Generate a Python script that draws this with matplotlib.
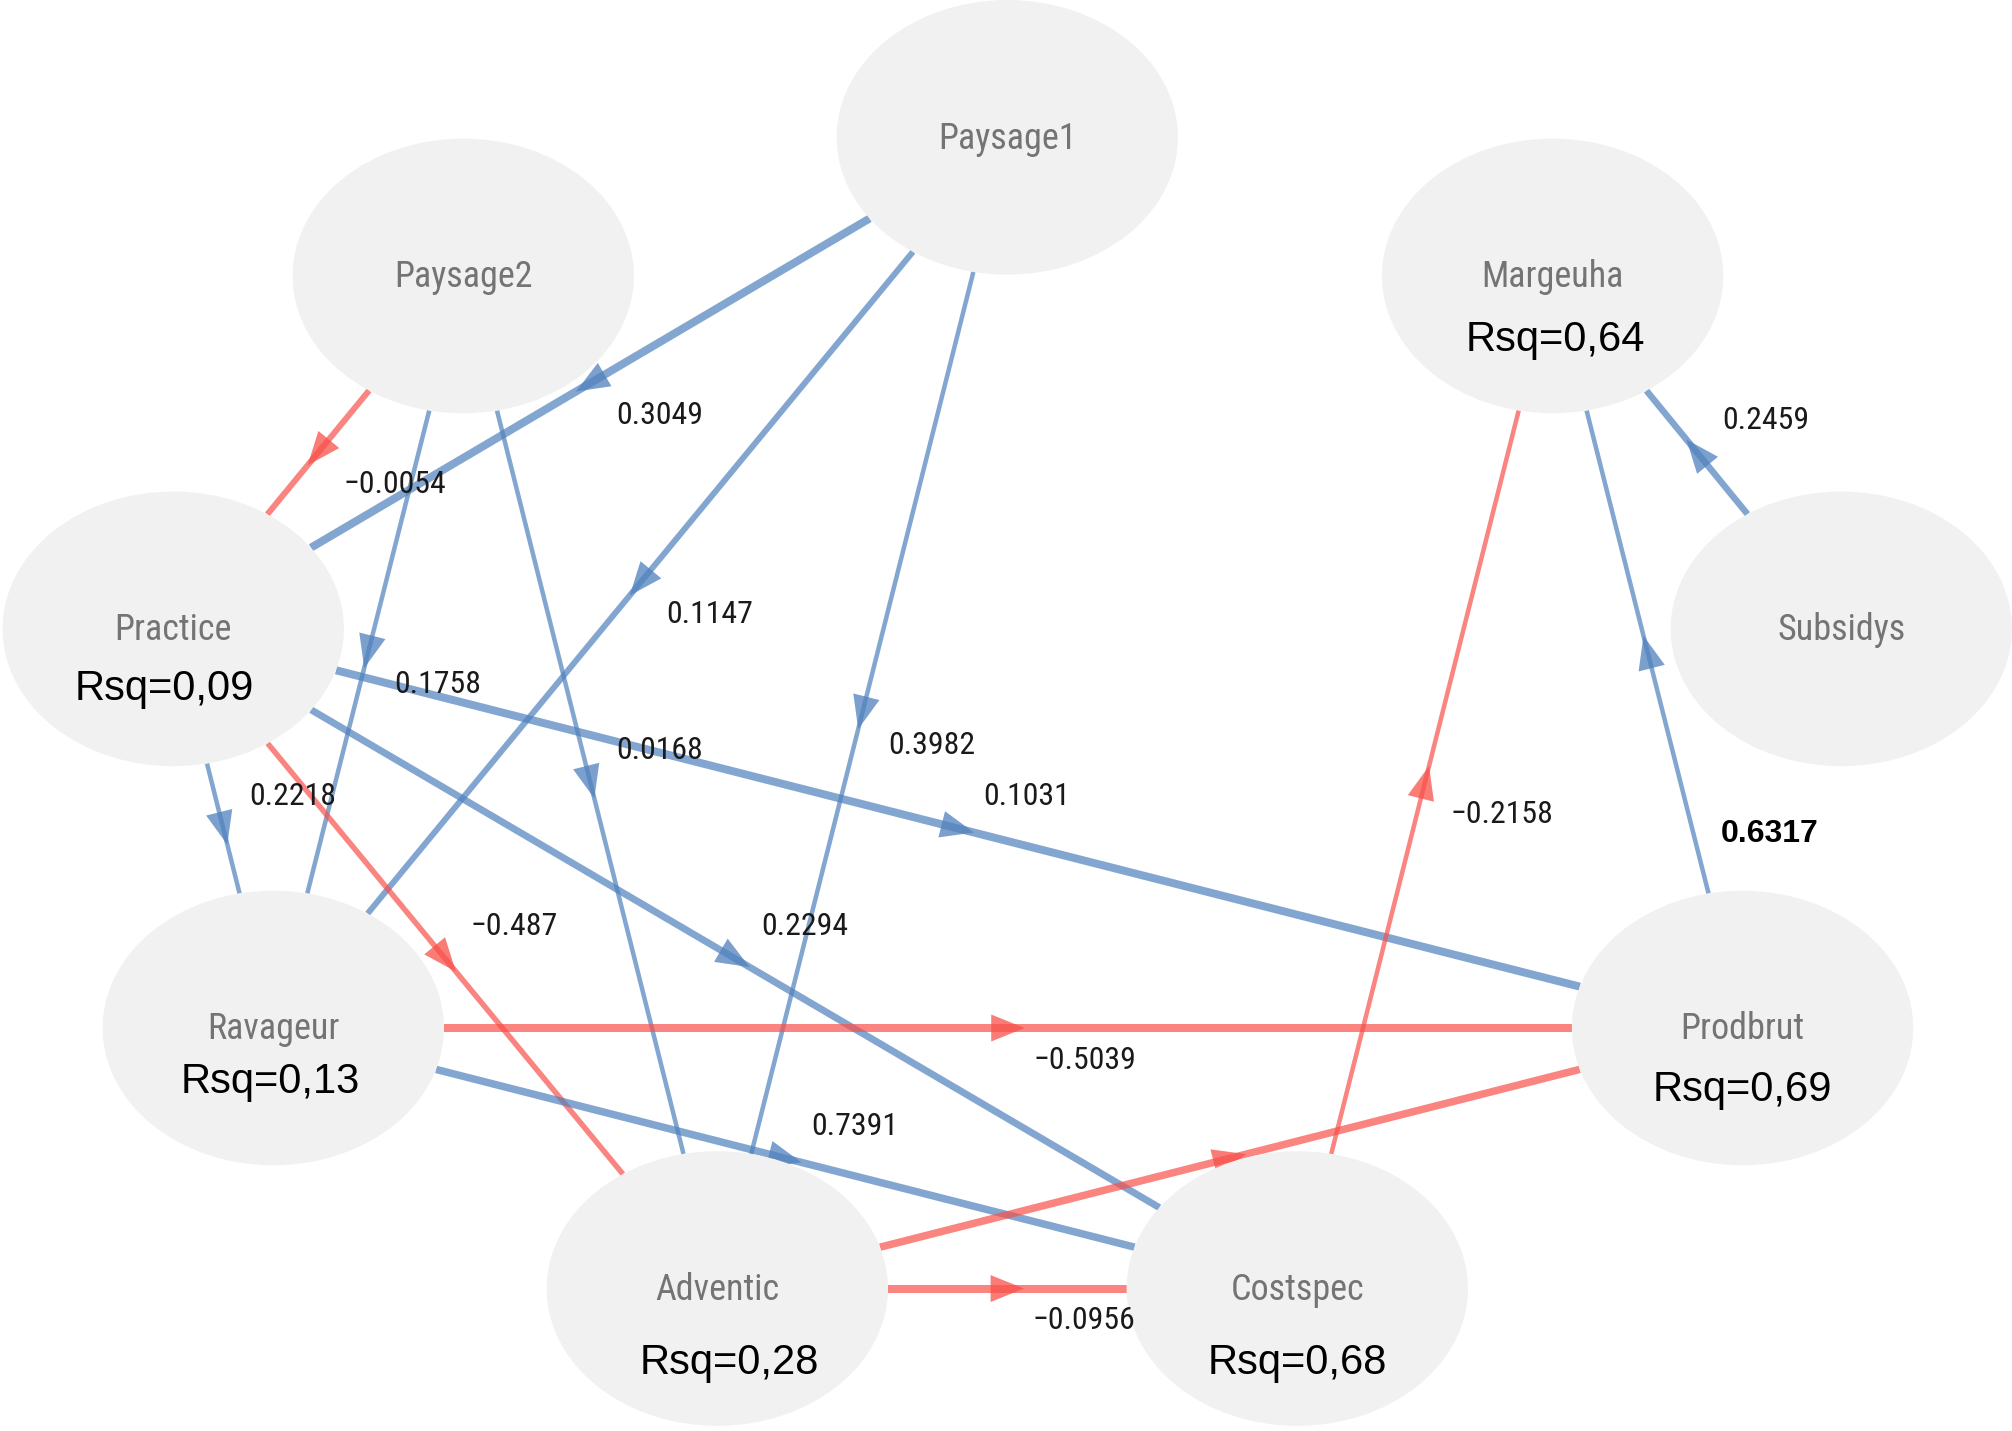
import numpy as np
import matplotlib.pyplot as plt
from matplotlib import font_manager
from matplotlib.patches import Ellipse, Polygon

# layout of the path model (canvas units, y grows downwards)
nodes = ["Paysage1", "Paysage2", "Margeuha", "Practice", "Subsidys",
         "Ravageur", "Prodbrut", "Adventic", "Costspec"]
node_x = [785, 361, 1210, 135, 1435, 213, 1358, 559, 1011]
node_y = [107, 215, 215, 490, 490, 801, 801, 1004, 1004]

# path coefficients: from, to, estimate, line width in px, labelled
edge_from = ["Paysage1", "Paysage1", "Paysage1", "Paysage2", "Paysage2", "Paysage2",
             "Practice", "Practice", "Practice", "Practice", "Ravageur", "Ravageur",
             "Adventic", "Adventic", "Costspec", "Prodbrut", "Subsidys"]
edge_to = ["Practice", "Ravageur", "Adventic", "Practice", "Ravageur", "Adventic",
           "Ravageur", "Prodbrut", "Costspec", "Adventic", "Prodbrut", "Costspec",
           "Prodbrut", "Costspec", "Margeuha", "Margeuha", "Margeuha"]
edge_coef = [0.3049, 0.1147, 0.3982, -0.0054, 0.1758, 0.0168,
             0.2218, 0.1031, 0.2294, -0.487, -0.5039, 0.7391,
             -0.30, -0.0956, -0.2158, 0.6317, 0.2459]
edge_width = [8, 6, 4.5, 6, 4.5, 4.5,
              4.5, 8, 7, 5.5, 8, 7.5,
              7.5, 8, 4.5, 4.5, 6.5]
edge_label = [True, True, True, True, True, True,
              True, True, True, True, True, True,
              False, True, True, False, True]

# R-squared of the endogenous variables
rsq_nodes = ["Practice", "Ravageur", "Margeuha", "Prodbrut", "Adventic", "Costspec"]
rsq_values = ["0,09", "0,13", "0,64", "0,69", "0,28", "0,68"]
rsq_dx = [-7, -2, 2, 0, 9, 0]
rsq_dy = [47, 42, 50, 48, 58, 58]

RX, RY = 133, 107
BLUE = "#4F81BD"
RED = "#F8504A"
W, H = 1568, 1115


def pick_narrow():
    # look for a condensed sans face, best first
    prefs = ["Liberation Sans Narrow", "Arial Narrow", "Roboto Condensed",
             "Open Sans Condensed", "Noto Sans Condensed", "DejaVu Sans"]
    found = {}
    for f in font_manager.fontManager.ttflist:
        cond = ("Narrow" in f.name or "Condensed" in f.name
                or str(f.stretch) in ("condensed", "semi-condensed"))
        w = f.weight if isinstance(f.weight, int) else 400
        if cond and w in (400, "normal", "regular") and f.style == "normal":
            found.setdefault(f.name, f.fname)
    for p in prefs:
        if p in found:
            return font_manager.FontProperties(fname=found[p]), p
    if found:
        name = sorted(found)[0]
        return font_manager.FontProperties(fname=found[name]), name
    return font_manager.FontProperties(family="Liberation Sans"), None


narrow, narrow_name = pick_narrow()
# relative size so each face gives roughly the same text width
shrink = {"Liberation Sans Narrow": 1.0, "Arial Narrow": 1.0,
          "DejaVu Sans": 0.85, None: 0.8}.get(narrow_name, 1.04)
regular = ["Liberation Sans", "DejaVu Sans"]

pos = {n: np.array([x, y], float) for n, x, y in zip(nodes, node_x, node_y)}


def border(c, d):
    t = 1.0 / np.sqrt((d[0] / RX) ** 2 + (d[1] / RY) ** 2)
    return c + t * d


fig = plt.figure(figsize=(20.12, 14.31), dpi=100)
ax = fig.add_axes([0, 0, 1, 1])
ax.set_xlim(0, W)
ax.set_ylim(H, 0)
ax.axis("off")

for a, b, coef, lw, lab in zip(edge_from, edge_to, edge_coef, edge_width, edge_label):
    ca, cb = pos[a], pos[b]
    d = cb - ca
    p0 = border(ca, d)
    p1 = border(cb, -d)
    col = RED if coef < 0 else BLUE
    ax.plot([p0[0], p1[0]], [p0[1], p1[1]], color=col, alpha=0.7,
            lw=lw * 0.72, solid_capstyle="butt", zorder=2)
    # arrow head in the middle of the edge
    mid = (p0 + p1) / 2
    u = d / np.hypot(*d)
    nrm = np.array([-u[1], u[0]])
    tip = mid + u * 13
    base = mid - u * 13
    tri = Polygon([tip, base + nrm * 10.5, base - nrm * 10.5], closed=True,
                  facecolor=col, edgecolor="none", alpha=0.75, zorder=3)
    ax.add_patch(tri)
    if lab:
        sgn = 1 if d[0] * d[1] <= 0 else -1
        txt = f"{coef:g}".replace("-", "\u2212")
        ax.text(mid[0] + 20, mid[1] + 25 * sgn, txt, ha="left", va="center",
                fontproperties=narrow, fontsize=22 * shrink, color="#1a1a1a",
                zorder=5)

# the Prodbrut -> Margeuha estimate is written in bold beside the node
k = edge_to.index("Margeuha", edge_from.index("Prodbrut"))
ax.text(1341, 650, f"{edge_coef[k]:g}", ha="left", va="center", fontsize=23,
        fontweight="bold", color="black", family=regular, zorder=5)

for n in nodes:
    c = pos[n]
    ax.add_patch(Ellipse(c, 2 * RX, 2 * RY, facecolor="#F1F1F1",
                         edgecolor="none", zorder=4))
    ax.text(c[0], c[1] + 1, n, ha="center", va="center", fontproperties=narrow,
            fontsize=25 * shrink, color="#747474", zorder=5)

for n, v, dx, dy in zip(rsq_nodes, rsq_values, rsq_dx, rsq_dy):
    c = pos[n]
    ax.text(c[0] + dx, c[1] + dy, f"Rsq={v}", ha="center", va="center",
            fontsize=30, color="black", family=regular, zorder=5)

fig.savefig("out.png", dpi=100)
